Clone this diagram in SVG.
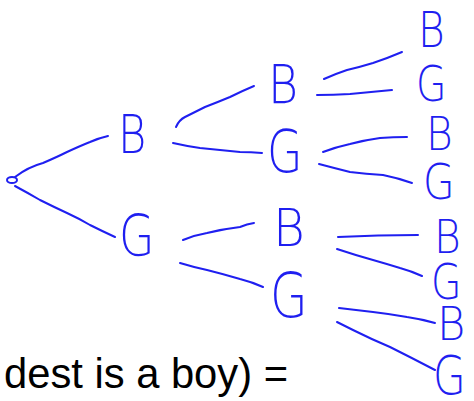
<svg xmlns="http://www.w3.org/2000/svg" width="474" height="401" viewBox="0 0 474 401">
<style>
.n text{font-family:"DejaVu Sans",sans-serif;font-weight:200;fill:#1f1ff0;font-size:54px}
.n.s text{font-size:48px}
.c path,.c ellipse{fill:none;stroke:#1f1ff0;stroke-width:2;stroke-linecap:round;stroke-linejoin:round}
.q{font-family:"Liberation Sans",sans-serif;font-size:42px;fill:#000}
</style>
<rect width="474" height="401" fill="#fff"/>
<g class="c" id="connectors">
<ellipse cx="12" cy="180" rx="5" ry="3"/>
<path d="M15,177 Q28,167 43,163 Q57,157 67,152 Q80,146 90,142 Q99,138 108,136"/>
<path d="M15,186 Q28,193 40,200 Q54,207 67,213 Q80,219 90,225 Q102,231 115,237"/>
<path d="M176,127 Q179,120 185,117 Q195,112 205,107 Q218,102 230,97 Q242,91 254,86"/>
<path d="M173,143 Q186,146 200,148 Q220,150 240,152 Q251,152 262,153"/>
<path d="M324,79 Q335,74 347,70 Q360,67 373,63 Q388,58 402,52"/>
<path d="M317,95 Q333,95 350,94 Q371,92 392,90"/>
<path d="M323,152 Q336,147 350,144 Q365,140 380,138 Q393,137 407,137"/>
<path d="M319,164 Q334,168 350,172 Q366,174 383,175 Q398,178 412,183"/>
<path d="M183,240 Q195,235 207,233 Q223,229 240,227 Q247,224 254,223"/>
<path d="M180,263 Q193,267 207,270 Q223,274 240,279 Q252,282 263,287"/>
<path d="M338,237 Q378,235 418,235"/>
<path d="M337,249 Q355,255 373,260 Q387,264 400,268 Q411,271 422,276"/>
<path d="M339,308 Q356,310 373,312 Q390,314 407,317 Q421,319 435,323"/>
<path d="M337,322 Q345,326 353,330 Q371,339 390,347 Q412,358 435,370"/>
</g>
<g class="n" id="b1"><text transform="translate(118,153) scale(0.8,1)">B</text></g>
<g class="n" id="g1"><text transform="translate(119,256) scale(0.85,1.05)">G</text></g>
<g class="n" id="b2"><text transform="translate(268,103) scale(0.85,1)">B</text></g>
<g class="n" id="g2"><text transform="translate(267,172) scale(0.85,1.1)">G</text></g>
<g class="n" id="b2p"><text transform="translate(273,246) scale(0.9,0.95)">B</text></g>
<g class="n" id="g2p"><text transform="translate(270,317) scale(0.9,1.15)">G</text></g>
<g class="n s" id="b3a"><text transform="translate(418,47) scale(0.85,1.05)">B</text></g>
<g class="n s" id="g3a"><text transform="translate(416,101) scale(0.82,1.05)">G</text></g>
<g class="n s" id="b3b"><text transform="translate(426,150) scale(0.85,0.95)">B</text></g>
<g class="n s" id="g3b"><text transform="translate(423,199) scale(0.85,1.05)">G</text></g>
<g class="n s" id="b3c"><text transform="translate(434,253) scale(0.85,0.95)">B</text></g>
<g class="n s" id="g3c"><text transform="translate(431,299) scale(0.82,1.05)">G</text></g>
<g class="n s" id="b3d"><text transform="translate(437,340) scale(0.9,0.95)">B</text></g>
<g class="n s" id="g3d"><text transform="translate(433,394) scale(0.88,1.1)">G</text></g>
<text class="q" x="4" y="388" textLength="284" lengthAdjust="spacingAndGlyphs">dest is a boy) =</text>
</svg>
